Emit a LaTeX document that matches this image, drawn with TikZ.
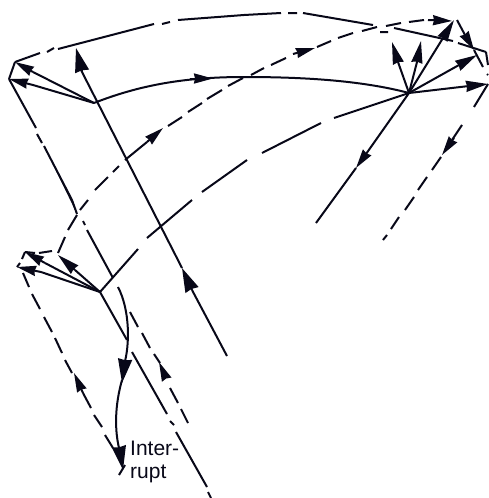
\documentclass[tikz,border=0pt]{standalone}
\usepackage{fontspec}
\setmainfont{Liberation Sans}
\usetikzlibrary{arrows.meta}
\definecolor{ink}{RGB}{8,8,24}
\tikzset{
  ln/.style={line width=2pt,draw=ink,fill=ink},
  ah/.style={ln,-{Stealth[length=19pt,width=10pt,inset=1pt]}},
  ahm/.style={ln,-{Stealth[length=22pt,width=11pt,inset=1pt]}},
  ahb/.style={ln,-{Stealth[length=24pt,width=14pt,inset=1pt]}}
}
\begin{document}
\begin{tikzpicture}[x=1pt,y=-1pt]
\useasboundingbox (0,0) rectangle (488,498);
% key points
\coordinate (A) at (94,103);
\coordinate (R) at (409,93);
\coordinate (B) at (100,292);
\coordinate (P1) at (15,62);
\coordinate (P2) at (9,79);
\coordinate (P3) at (25,252);
\coordinate (P4) at (17,267);
\coordinate (Q1) at (455,20);
\coordinate (Q2) at (486,52);
\coordinate (Q3) at (488,84);
% top-left fan
\draw[ln] (P1) -- (P2);
\draw[ln] (A) -- (33,72);
\draw[ah] (33,72) -- (P1);
\draw[ln] (A) -- (33,85);
\draw[ah] (33,85) -- (P2);
\draw[ln] (227,356) -- (192,290) (182,268) -- (81,70);
\draw[ahb] (192,290) -- (182,268);
\draw[ahb] (82,71) -- (76,48);
% upper curve
\draw[ln] (P1)--(40,53) (47,52)--(54,48) (58,49)--(154,24) (162,24)--(170,22) (178,20)--(244,15) (244,15)--(281,13) (288,13)--(297,13) (303,13)--(373,25) (380,32)--(388,32) (394,28)--(453,41) (458,43)--(Q2) (Q2)--(488,65) (487,74)--(488,75);
% main curve
\draw[ln,fill=none] (A) .. controls (140,85) and (185,77) .. (244,77) .. controls (300,77) and (360,80) .. (R);
\draw[ah] (190,78.5) -- (213,78.5);
% left solid line with gaps
\draw[ln] (P2)--(36,128) (37,134)--(42,143) (44,146)--(72,200)--(77,214) (83,221)--(85,225) (87,230)--(113,278) (130,312)--(138,327) (142,333)--(150,348) (154,354)--(160,363) (170,388)--(178,403) (181,409)--(188,423);
\draw[ah] (166,378) -- (159,362);
% middle dashed curve
\draw[ln] (P3)--(35,253) (39,253)--(52,251) (58,253)--(65,237) (68,230)--(77,215) (80,210)--(88,200) (95,190)--(108,177) (113,172)--(119,166) (125,160)--(147,142) (168,126)--(182,117) (188,112)--(202,103) (207,99)--(222,90) (228,86)--(243,78) (251,75)--(264,68) (271,65)--(286,58) (317,47)--(331,41) (338,38)--(353,33) (362,31)--(377,27) (386,26)--(401,23) (409,22)--(424,20) (P3)--(22,259) (20,263)--(P4);
\draw[ah] (147,142) -- (163,128);
\draw[ah] (293,54) -- (315,48);
\draw[ah] (428,20) -- (452,21);
% right fan
\draw[ln] (R) -- (398,62); \draw[ahm] (398,62) -- (392,42);
\draw[ln] (R) -- (417,62); \draw[ahm] (417,62) -- (421,41);
\draw[ln] (R) -- (443,38); \draw[ahm] (443,38) -- (454,20);
\draw[ln] (R) -- (459,65); \draw[ahm] (459,65) -- (477,55);
\draw[ln] (R) -- (469,86); \draw[ahm] (469,86) -- (Q3);
% right dashed
\draw[ln] (457,20)--(465,35) (474,50)--(483,67) (Q3)--(474,107) (462,125)--(452,140) (441,157)--(432,170) (427,177)--(418,190) (414,197)--(405,210) (399,217)--(391,229) (387,235)--(383,240);
\draw[ah] (465,35) -- (474,50);
\draw[ah] (454,138) -- (442,155);
% right solid down
\draw[ln] (R) -- (366,154) (356,168) -- (316,223);
\draw[ah] (366,154) -- (356,168);
% lower long curve
\draw[ln] (B)--(138,249) (147,238)--(192,200) (202,192)--(247,160) (262,153)--(321,123) (334,118)--(R);
% small fan
\draw[ln] (B) -- (45,263); \draw[ah] (45,263) -- (P3);
\draw[ln] (B) -- (41,272); \draw[ah] (41,272) -- (P4);
\draw[ln] (B) -- (75,270); \draw[ahm] (75,270) -- (58,255);
% lines down from small fan
\draw[ln] (B)--(127,340) (132,352)--(167,414) (170,421)--(174,425) (176,432)--(207,487) (208,492)--(211,498);
\draw[ln] (23,273)--(29,287) (32,294)--(40,309) (44,317)--(52,332) (55,338)--(62,353) (65,360)--(72,373) (83,393)--(91,408) (94,415)--(102,427) (105,435)--(113,448) (119,475)--(125,465);
\draw[ah] (83,393) -- (74,373);
% interrupt curve
\draw[ln,fill=none] (118,287) .. controls (130,310) and (130,345) .. (124,365);
\draw[ln,fill=none] (122,380) .. controls (115,405) and (114,430) .. (120,452);
\draw[ahb] (125,360) -- (122,383);
\draw[ahb] (119,447) -- (123,470);
\node[anchor=base west,inner sep=0pt,text=ink,font=\fontsize{21}{23}\selectfont] (t1) at (130,455) {Inter-};
\node[anchor=base west,inner sep=0pt,text=ink,font=\fontsize{21}{23}\selectfont] (t2) at (130,478) {rupt};
\end{tikzpicture}
\end{document}
